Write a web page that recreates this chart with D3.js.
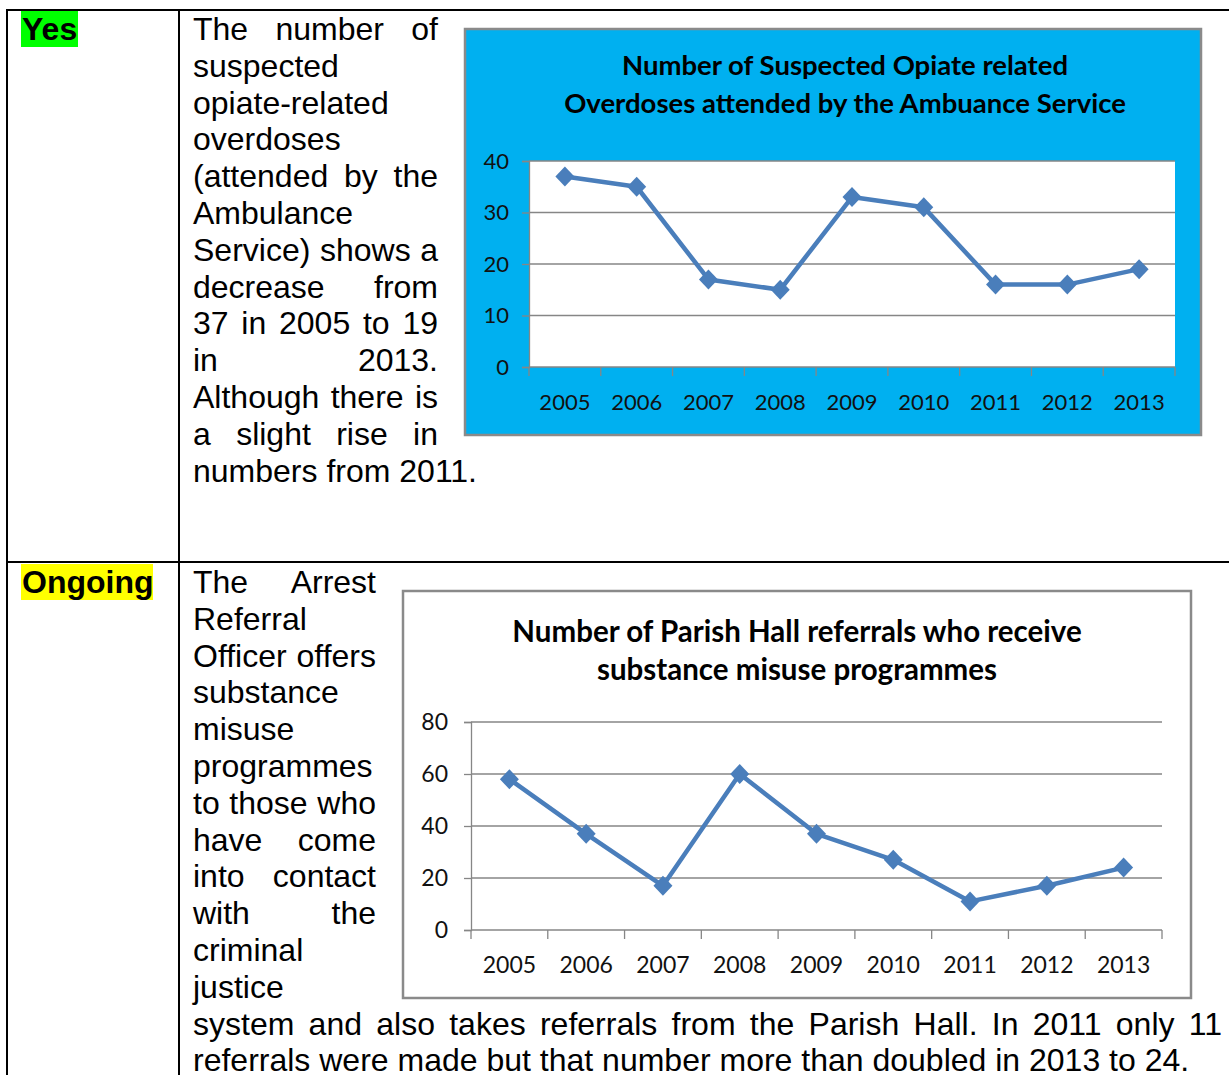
<!DOCTYPE html>
<html>
<head>
<meta charset="utf-8">
<script src="https://cdn.jsdelivr.net/npm/d3@7"></script>
<style>
  html, body { margin: 0; padding: 0; background: #fff; }
  svg { display: block; }
  .para { font-family: "Liberation Sans", Arial, sans-serif; font-size: 32px; fill: #000; }
  .tag { font-family: "Liberation Sans", Arial, sans-serif; font-size: 32px; font-weight: bold; fill: #000; }
  .ctitle { font-family: Lato, sans-serif; font-weight: bold; fill: #000; }
  .axis text { font-family: Lato, sans-serif; fill: #111; }
</style>
</head>
<body>
<svg id="page" width="1229" height="1075"></svg>
<script>
// chart data
const years = ['2005', '2006', '2007', '2008', '2009', '2010', '2011', '2012', '2013'];
const overdoses = [37, 35, 17, 15, 33, 31, 16, 16, 19];
const referrals = [58, 37, 17, 60, 37, 27, 11, 17, 24];
const overdoseTicks = [0, 10, 20, 30, 40];
const referralTicks = [0, 20, 40, 60, 80];
const overdoseTitle = ['Number of Suspected Opiate related', 'Overdoses attended by the Ambuance Service'];
const referralTitle = ['Number of Parish Hall referrals who receive', 'substance misuse programmes'];

// table text, [line, justified?]
const yesLines = [
  ['The number of', true], ['suspected', false], ['opiate-related', false], ['overdoses', false],
  ['(attended by the', true], ['Ambulance', false], ['Service) shows a', true], ['decrease from', true],
  ['37 in 2005 to 19', true], ['in 2013.', true], ['Although there is', true], ['a slight rise in', true],
  ['numbers from 2011.', false]
];
const ongoingLines = [
  ['The Arrest', true], ['Referral', false], ['Officer offers', true], ['substance', false],
  ['misuse', false], ['programmes', false], ['to those who', true], ['have come', true],
  ['into contact', true], ['with the', true], ['criminal', false], ['justice', false]
];
const ongoingTail = [
  ['system and also takes referrals from the Parish Hall. In 2011 only 11', true],
  ['referrals were made but that number more than doubled in 2013 to 24.', false]
];

const svg = d3.select('#page');
const LH = 36.8;

// table grid
const grid = svg.append('g').attr('stroke', '#000').attr('stroke-width', 2);
grid.append('line').attr('x1', 6).attr('x2', 1229).attr('y1', 10).attr('y2', 10);
grid.append('line').attr('x1', 6).attr('x2', 1229).attr('y1', 562).attr('y2', 562);
grid.append('line').attr('x1', 7).attr('x2', 7).attr('y1', 9).attr('y2', 1075);
grid.append('line').attr('x1', 179).attr('x2', 179).attr('y1', 9).attr('y2', 1075);

// status tags
const tag = (label, colour, y, w) => {
  svg.append('rect').attr('x', 21).attr('y', y - 29).attr('width', w).attr('height', 36).attr('fill', colour);
  svg.append('text').attr('class', 'tag').attr('x', 22).attr('y', y).text(label);
};
tag('Yes', '#00ff00', 40, 57);
tag('Ongoing', '#ffff00', 593, 132);

const paragraph = (lines, x0, width, y0) => {
  lines.forEach(([txt, justify], i) => {
    const y = y0 + i * LH;
    const words = txt.split(' ');
    if (!justify || words.length < 2) {
      svg.append('text').attr('class', 'para').attr('x', x0).attr('y', y).text(txt);
      return;
    }
    const nodes = words.map(w => svg.append('text').attr('class', 'para').attr('y', y).text(w));
    const widths = nodes.map(n => n.node().getComputedTextLength());
    const gap = (width - d3.sum(widths)) / (words.length - 1);
    let x = x0;
    nodes.forEach((n, k) => {
      n.attr('x', x);
      x += widths[k] + gap;
    });
  });
};

paragraph(yesLines, 193, 245, 40);
paragraph(ongoingLines, 193, 183, 593);
paragraph(ongoingTail, 193, 1029, 593 + ongoingLines.length * LH);

const diamond = 'M0,-10L9.5,0L0,10L-9.5,0Z';

const lineChart = (o) => {
  const g = svg.append('g');
  g.append('rect')
    .attr('x', o.box[0]).attr('y', o.box[1])
    .attr('width', o.box[2] - o.box[0]).attr('height', o.box[3] - o.box[1])
    .attr('fill', o.bg).attr('stroke', '#8a8a8a').attr('stroke-width', 2.5);

  const [l, t, r, b] = o.plot;
  if (o.plotBg) {
    g.append('rect').attr('x', l).attr('y', t).attr('width', r - l).attr('height', b - t).attr('fill', o.plotBg);
  }

  const x = d3.scaleBand().domain(years).range([l, r]);
  const y = d3.scaleLinear().domain(d3.extent(o.ticks)).range([b, t]);

  // gridlines
  g.append('g').selectAll('line').data(o.ticks.slice(1)).join('line')
    .attr('x1', l).attr('x2', r)
    .attr('y1', d => y(d)).attr('y2', d => y(d))
    .attr('stroke', '#868686').attr('stroke-width', 1.3);

  // y axis
  const ya = g.append('g').attr('class', 'axis').attr('transform', `translate(${l},0)`)
    .call(d3.axisLeft(y).tickValues(o.ticks).tickSize(7).tickPadding(o.ypad));
  ya.select('.domain').attr('stroke', '#868686').attr('stroke-width', 1.3);
  ya.selectAll('.tick line').attr('stroke', '#868686').attr('stroke-width', 1.3);
  ya.selectAll('text').style('font-size', o.tickSize + 'px');

  // x axis: labels at centres, ticks at boundaries
  const xa = g.append('g').attr('class', 'axis').attr('transform', `translate(0,${b})`)
    .call(d3.axisBottom(x).tickSize(0).tickPadding(27));
  xa.select('.domain').remove();
  xa.selectAll('text').style('font-size', o.tickSize + 'px');
  g.append('line').attr('x1', l).attr('x2', r).attr('y1', b).attr('y2', b)
    .attr('stroke', '#868686').attr('stroke-width', 1.3);
  g.append('g').selectAll('line').data(d3.range(years.length + 1)).join('line')
    .attr('x1', i => l + i * x.step()).attr('x2', i => l + i * x.step())
    .attr('y1', b).attr('y2', b + 9)
    .attr('stroke', '#868686').attr('stroke-width', 1.3);

  // title
  g.append('g').selectAll('text').data(o.title).join('text')
    .attr('class', 'ctitle').attr('text-anchor', 'middle')
    .style('font-size', o.titleSize + 'px')
    .attr('x', o.titleX).attr('y', (d, i) => o.titleY + i * 38)
    .text(d => d);

  // series
  const cx = (d, i) => x(years[i]) + x.bandwidth() / 2;
  g.append('path').datum(o.values)
    .attr('fill', 'none').attr('stroke', '#4a7ebb').attr('stroke-width', 4.5)
    .attr('stroke-linejoin', 'round')
    .attr('d', d3.line().x(cx).y(d => y(d)));
  g.append('g').selectAll('path').data(o.values).join('path')
    .attr('d', diamond).attr('fill', '#4a7ebb')
    .attr('transform', (d, i) => `translate(${cx(d, i)},${y(d)})`);
};

lineChart({
  box: [465, 29, 1201, 435], bg: '#00b0f0', plotBg: '#ffffff',
  plot: [529, 161, 1175, 367], ticks: overdoseTicks, values: overdoses,
  title: overdoseTitle, titleX: 845, titleY: 75, titleSize: 27.5, tickSize: 22, ypad: 13
});

lineChart({
  box: [403, 591, 1191, 998], bg: '#ffffff', plotBg: null,
  plot: [471, 722, 1162, 930], ticks: referralTicks, values: referrals,
  title: referralTitle, titleX: 797, titleY: 642, titleSize: 29.5, tickSize: 23, ypad: 16
});
</script>
</body>
</html>
